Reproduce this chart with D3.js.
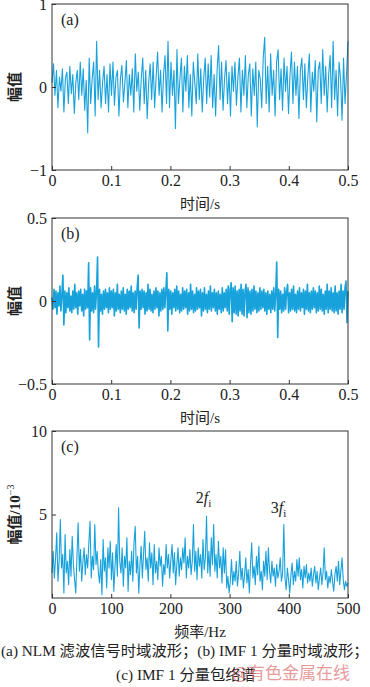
<!DOCTYPE html>
<html>
<head>
<meta charset="utf-8">
<script src="https://cdn.jsdelivr.net/npm/d3@7"></script>
<style>
    body { margin: 0; background: #fff; }
    text { font-family: "Liberation Serif", "Noto Sans CJK SC", serif; fill: #222; }
</style>
</head>
<body>
<div id="chart"></div>
<script>
// (a) NLM filtered signal, 0 - 0.5 s
const signalA = [
    0.05, 0.28, -0.1, 0.2, -0.25, 0.12, -0.05, 0.22, -0.3, 0.1, 0.18, -0.2, 0.25, -0.08, 0.15, -0.32, 0.05, 0.2, -0.15, 0.3,
    -0.1, 0.22, -0.28, 0.08, -0.55, 0.35, -0.2, 0.1, 0.3, -0.35, 0.55, -0.15, 0.2, -0.25, 0.05, 0.25, -0.2, 0.15, -0.3, 0.28,
    -0.1, 0.3, -0.22, 0.12, 0.2, -0.35, 0.1, 0.26, -0.18, 0.05, 0.32, -0.25, 0.15, -0.1, 0.22, -0.3, 0.4, -0.05, 0.18, -0.28,
    0.1, 0.35, -0.2, 0.2, -0.38, 0.05, 0.28, -0.15, 0.3, -0.25, 0.12, 0.42, -0.1, 0.2, -0.3, 0.15, 0.38, -0.2, 0.55, -0.25,
    0.3, -0.1, 0.2, -0.5, 0.45, -0.2, 0.1, 0.35, -0.3, 0.25, -0.05, 0.38, -0.25, 0.15, -0.35, 0.3, 0.05, -0.2, 0.4, -0.15,
    0.22, -0.3, 0.1, 0.35, -0.2, 0.28, -0.12, 0.38, -0.25, 0.15, -0.35, 0.2, 0.5, -0.15, 0.3, -0.28, 0.1, 0.32, -0.2, 0.18,
    -0.35, 0.25, -0.05, 0.3, -0.22, 0.12, 0.35, -0.3, 0.2, -0.1, 0.38, -0.25, 0.15, 0.28, -0.35, 0.22, -0.1, 0.3, -0.48, 0.2,
    0.1, -0.25, 0.35, 0.6, -0.2, 0.25, -0.3, 0.4, -0.1, 0.2, -0.35, 0.3, 0.45, -0.15, 0.22, -0.28, 0.35, -0.05, 0.25, -0.32,
    0.15, 0.42, -0.2, 0.3, -0.1, 0.25, -0.38, 0.2, 0.35, -0.15, 0.28, -0.25, 0.12, 0.4, -0.3, 0.18, -0.05, 0.32, -0.42, 0.2,
    0.3, -0.2, 0.45, -0.1, 0.25, -0.3, 0.15, 0.38, -0.25, 0.55, -0.15, 0.2, -0.35, 0.3, 0.1, -0.4, 0.35, -0.2, 0.15, 0.55
];

// (b) IMF 1 component, 0 - 0.5 s
const signalB = [
    .02, -.05, .07, -.04, .06, -.08, .05, -.03, .09, -.06, .04, .155, -.145, .06, -.07, .05, -.04, .08, -.06, .03,
    -.07, .06, -.05, .1, -.04, .05, -.08, .06, -.03, .07, -.06, .04, -.09, .07, -.05, .06, -.04, .23, -.235, .08,
    -.06, .05, -.07, .09, -.05, .06, .265, -.277, .07, -.06, .04, -.08, .06, -.05, .07, -.04, .05, -.07, .08, -.05,
    .06, -.04, .07, -.09, .05, -.06, .1, -.05, .04, -.07, .06, -.05, .08, -.06, .04, -.08, .07, -.05, .06, -.04,
    .09, -.06, .05, -.07, .06, -.05, .08, .157, -.163, .06, -.05, .07, -.04, .06, -.08, .05, -.06, .1, -.05, .07,
    -.06, .04, -.07, .06, -.05, .08, -.04, .06, -.09, .05, -.06, .07, -.05, .08, -.04, .06, .17, -.18, .07, -.05,
    .06, -.08, .05, -.04, .07, -.06, .09, -.05, .06, -.07, .04, -.06, .08, -.05, .06, -.04, .07, -.08, .05, -.06,
    .1, -.05, .06, -.07, .04, -.06, .08, -.05, .06, -.04, .07, -.09, .05, -.06, .08, -.05, .04, -.07, .06, -.05,
    .09, -.06, .05, -.04, .07, -.06, .05, -.08, .06, -.05, .04, -.07, .08, -.06, .05, -.04, .07, -.06, .09, -.08,
    .07, .11, -.125, .08, -.07, .09, -.08, .06, -.09, .07, -.06, .1, -.08, .07, -.09, .06, .1, -.1, .08, -.07,
    .06, -.08, .07, -.06, .09, -.05, .06, -.07, .05, -.06, .08, -.05, .06, -.04, .07, -.06, .05, -.08, .06, -.05,
    .04, -.07, .06, -.05, .08, -.06, .05, .235, -.22, .07, -.05, .06, -.07, .04, -.06, .08, -.05, .06, .1, -.07,
    .05, -.06, .07, -.05, .09, -.06, .04, -.07, .06, -.05, .08, -.06, .05, -.04, .07, -.08, .06, -.05, .1, -.06,
    .05, -.07, .06, -.05, .08, -.04, .06, -.07, .05, -.06, .09, -.05, .07, -.06, .04, -.08, .06, -.05, .1, -.07,
    .06, -.05, .08, -.06, .05, -.07, .09, -.06, .05, -.08, .06, -.05, .1, -.07, .06, -.05, .08, .12, -.13, .06
];

// (c) IMF 1 envelope spectrum, 0 - 500 Hz, amplitude in 1e-3
const spectrumC = [
    1.5, 2.8, 1.2, 2.4, 3.9, 1.0, 2.2, 4.7, 1.8, 2.6, 0.3, 3.8, 1.5, 2.2, 0.8, 2.9, 1.3, 3.7, 2.0, 1.1,
    0.3, 2.5, 4.5, 1.6, 2.9, 1.0, 2.2, 3.0, 1.4, 2.6, 1.8, 3.3, 4.6, 1.2, 2.5, 1.7, 4.4, 2.0, 2.8, 1.5,
    0.9, 2.3, 0.2, 3.5, 1.6, 2.4, 0.6, 3.0, 1.8, 3.4, 1.1, 2.7, 0.4, 1.9, 3.2, 1.3, 5.4, 2.2, 1.5, 3.0,
    0.7, 2.5, 1.8, 3.6, 0.4, 2.2, 1.4, 2.8, 1.0, 3.3, 4.3, 1.5, 2.5, 0.3, 2.0, 3.1, 1.2, 2.6, 4.0, 1.7,
    2.4, 1.0, 3.3, 1.8, 2.7, 0.8, 3.2, 1.5, 2.2, 1.1, 3.0, 1.9, 2.5, 0.7, 2.0, 1.4, 3.2, 1.8, 2.6, 1.2,
    2.3, 3.2, 1.5, 2.7, 0.8, 2.0, 3.0, 1.3, 2.4, 1.7, 3.0, 2.1, 3.6, 1.2, 2.5, 1.8, 2.9, 1.4, 2.2, 4.4,
    1.6, 2.8, 1.1, 3.0, 1.9, 2.6, 1.2, 3.5, 1.7, 2.4, 4.9, 1.5, 2.8, 1.3, 3.6, 2.0, 4.4, 1.6, 2.6, 1.2,
    3.4, 1.8, 2.5, 0.9, 3.0, 1.5, 2.9, 0.6, 1.3, 0.3, 1.0, 2.3, 0.8, 1.6, 1.0, 2.2, 0.7, 1.5, 2.8, 1.1,
    1.8, 0.6, 1.4, 2.4, 0.9, 1.7, 0.3, 2.0, 3.3, 1.2, 1.9, 0.8, 2.5, 1.4, 3.1, 1.0, 1.6, 0.5, 2.2, 1.3,
    2.8, 1.1, 3.0, 1.6, 0.9, 2.2, 1.3, 1.8, 0.7, 2.0, 1.2, 1.6, 2.4, 1.0, 1.5, 4.4, 1.2, 0.5, 1.8, 1.1,
    0.3, 1.4, 2.1, 0.8, 1.6, 1.0, 2.3, 1.3, 2.4, 1.1, 1.7, 0.6, 1.9, 1.2, 2.0, 0.9, 1.5, 1.0, 1.8, 0.7,
    1.4, 1.9, 0.9, 1.6, 0.5, 1.2, 1.8, 0.8, 1.5, 3.0, 1.1, 1.6, 0.6, 1.3, 0.9, 1.7, 1.0, 0.4, 1.4, 1.9,
    1.0, 2.2, 0.8, 1.6, 2.4, 1.1, 0.5, 1.0, 0.7, 0.9
];

const timeTicks = [0, 0.1, 0.2, 0.3, 0.4, 0.5];
const freqTicks = [0, 100, 200, 300, 400, 500];
const ampTicksA = [-1, 0, 1];
const ampTicksB = [-0.5, 0, 0.5];
const ampTicksC = [5, 10];

const width = 370, height = 687;
const left = 52, right = 348;
const lineColor = "#18a2dc";

const svg = d3.select("#chart")
    .append("svg")
    .attr("width", width)
    .attr("height", height);

const signFormat = (d) => (d < 0 ? "\u2212" + Math.abs(d) : String(d));

function drawPanel(opt) {
    const x = d3.scaleLinear().domain(opt.xDomain).range([left, right]);
    const y = d3.scaleLinear().domain(opt.yDomain).range([opt.bottom, opt.top]);
    const n = opt.values.length;
    const xOf = (i) => opt.xDomain[0] + (opt.xDomain[1] - opt.xDomain[0]) * i / (n - 1);

    const line = d3.line()
        .x((d, i) => x(xOf(i)))
        .y((d) => y(d));

    svg.append("path")
        .datum(opt.values)
        .attr("fill", "none")
        .attr("stroke", lineColor)
        .attr("stroke-width", opt.strokeWidth || 1.1)
        .attr("stroke-linejoin", "round")
        .attr("d", line);

    // x axis, ticks pointing inward
    const xAxisG = svg.append("g")
        .attr("transform", `translate(0,${opt.bottom})`)
        .call(d3.axisBottom(x).tickValues(opt.xTicks).tickSize(-4).tickPadding(5).tickFormat(opt.xFormat));
    xAxisG.select(".domain").remove();
    xAxisG.selectAll("text").style("font-size", "16px").style("font-family", "Liberation Serif").attr("fill", "#222");
    xAxisG.selectAll("line").attr("stroke", "#333");

    // y axis
    const yAxisG = svg.append("g")
        .attr("transform", `translate(${left},0)`)
        .call(d3.axisLeft(y).tickValues(opt.yTicks).tickSize(-4).tickPadding(5).tickFormat(signFormat));
    yAxisG.select(".domain").remove();
    yAxisG.selectAll("text").style("font-size", "16px").style("font-family", "Liberation Serif").attr("fill", "#222");
    yAxisG.selectAll("line").attr("stroke", "#333");

    // frame
    svg.append("rect")
        .attr("x", left)
        .attr("y", opt.top)
        .attr("width", right - left)
        .attr("height", opt.bottom - opt.top)
        .attr("fill", "none")
        .attr("stroke", "#333")
        .attr("stroke-width", 1);

    // panel tag
    svg.append("text")
        .attr("x", 61)
        .attr("y", opt.top + 21)
        .style("font-size", "16px")
        .text(opt.tag);

    // x label
    svg.append("text")
        .attr("x", (left + right) / 2)
        .attr("y", opt.bottom + 39)
        .attr("text-anchor", "middle")
        .style("font-size", "15px")
        .text(opt.xLabel);

    // y label
    const yl = svg.append("text")
        .attr("transform", `translate(20,${(opt.top + opt.bottom) / 2}) rotate(-90)`)
        .attr("text-anchor", "middle")
        .style("font-size", "15px")
        .style("font-weight", "bold")
        .text(opt.yLabel);
    if (opt.yExp) {
        yl.append("tspan").attr("dy", -6).style("font-size", "10px").style("font-weight", "normal").text(opt.yExp);
    }
    return { x, y };
}

const timeFormat = (d) => (d === 0 ? "0" : d.toFixed(1));

drawPanel({
    values: signalA, xDomain: [0, 0.5], yDomain: [-1, 1], top: 4, bottom: 170,
    xTicks: timeTicks, yTicks: ampTicksA, xFormat: timeFormat,
    tag: "(a)", xLabel: "时间/s", yLabel: "幅值"
});

drawPanel({
    values: signalB, xDomain: [0, 0.5], yDomain: [-0.5, 0.5], top: 218, bottom: 384,
    xTicks: timeTicks, yTicks: ampTicksB, xFormat: timeFormat, strokeWidth: 1.6,
    tag: "(b)", xLabel: "时间/s", yLabel: "幅值"
});

const pc = drawPanel({
    values: spectrumC, xDomain: [0, 500], yDomain: [0, 10], top: 431, bottom: 598,
    xTicks: freqTicks, yTicks: ampTicksC, xFormat: (d) => String(d),
    tag: "(c)", xLabel: "频率/Hz", yLabel: "幅值/10", yExp: "\u22123"
});

// harmonic annotations
function harmonic(label, xPos, yPos) {
    const t = svg.append("text").attr("x", xPos).attr("y", yPos).style("font-size", "16px");
    t.append("tspan").text(label);
    t.append("tspan").style("font-style", "italic").text("f");
    t.append("tspan").attr("dy", 4).style("font-size", "11px").text("i");
}
harmonic("2", pc.x(258) - 9, 503);
harmonic("3", pc.x(378) - 5, 513);

// caption
svg.append("text")
    .attr("x", 1)
    .attr("y", 656)
    .style("font-size", "15.3px")
    .text("(a) NLM 滤波信号时域波形；(b) IMF 1 分量时域波形；");

svg.append("text")
    .attr("x", 186)
    .attr("y", 680)
    .attr("text-anchor", "middle")
    .style("font-size", "15.3px")
    .text("(c) IMF 1 分量包络谱");

svg.append("text")
    .attr("x", 232)
    .attr("y", 679)
    .style("font-size", "17px")
    .style("font-family", "Noto Sans CJK SC")
    .style("fill", "#e07a7a")
    .style("opacity", 0.75)
    .text("@有色金属在线");
</script>
</body>
</html>
